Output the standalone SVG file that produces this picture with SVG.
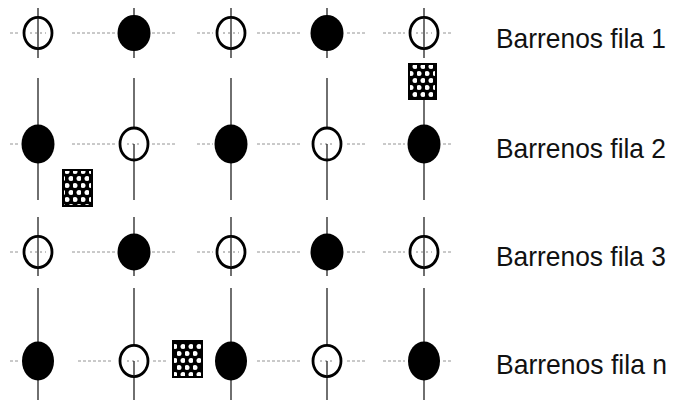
<svg xmlns="http://www.w3.org/2000/svg" width="675" height="402" viewBox="0 0 675 402">
  <defs>
    <pattern id="dots" patternUnits="userSpaceOnUse" width="8" height="14" x="1" y="0">
      <rect width="8" height="14" fill="#000"/>
      <circle cx="2" cy="3.5" r="2.5" fill="#fff"/>
      <circle cx="6" cy="10.5" r="2.5" fill="#fff"/>
    </pattern>
  </defs>
  <style>
    .vl { stroke: #111; stroke-width: 1.2; fill: none; }
    .hl { stroke: #888; stroke-width: 0.9; stroke-dasharray: 3 2; fill: none; }
    .in { stroke: #111; stroke-width: 1.2; fill: none; }
    .ih { stroke: #777; stroke-width: 0.9; stroke-dasharray: 2 3; fill: none; }
    .full { fill: #000; }
    .open { fill: #fff; stroke: #000; stroke-width: 2.8; }
    .sq { fill: url(#dots); stroke: #000; stroke-width: 2; }
    .lbl { font-family: "Liberation Sans", Arial, sans-serif; font-size: 28px; fill: #111; }
  </style>
  <rect width="675" height="402" fill="#fff"/>

  <g id="connectors">
    <path class="vl" d="M38 8V58M38 78V200M38 217V276M38 288V400"/>
    <path class="vl" d="M134 8V58M134 78V200M134 217V276M134 288V400"/>
    <path class="vl" d="M231 8V58M231 78V200M231 217V276M231 288V400"/>
    <path class="vl" d="M327 8V58M327 78V200M327 217V276M327 288V400"/>
    <path class="vl" d="M424 8V58M424 78V200M424 217V276M424 288V400"/>
    <path class="hl" d="M10 33H18M72 33H115M152 33H175M197 33H213M257 33H302M347 33H365M383 33H405M443 33H451"/>
    <path class="hl" d="M10 144H18M72 144H115M152 144H175M197 144H213M257 144H302M347 144H365M383 144H405M443 144H451"/>
    <path class="hl" d="M10 252H18M72 252H115M152 252H175M197 252H213M257 252H302M347 252H365M383 252H405M443 252H451"/>
    <path class="hl" d="M10 361H18M78 361H113M153 361H168M257 361H302M347 361H365M383 361H405M443 361H451"/>
  </g>

  <g id="row1">
    <g id="r1c1"><ellipse class="open" cx="38" cy="33" rx="14" ry="15.6"/><path class="ih" d="M30 33H46"/><path class="in" d="M38 17V49"/></g>
    <g id="r1c2"><ellipse class="full" cx="134" cy="33" rx="16.5" ry="18"/></g>
    <g id="r1c3"><ellipse class="open" cx="231" cy="33" rx="14" ry="15.6"/><path class="ih" d="M223 33H239"/><path class="in" d="M231 17V49"/></g>
    <g id="r1c4"><ellipse class="full" cx="327" cy="33" rx="16.5" ry="18"/></g>
    <g id="r1c5"><ellipse class="open" cx="424" cy="33" rx="14" ry="15.6"/><path class="ih" d="M416 33H432"/><path class="in" d="M424 17V49"/></g>
  </g>

  <g id="row2">
    <g id="r2c1"><ellipse class="full" cx="38" cy="144" rx="16.5" ry="19.5"/></g>
    <g id="r2c2"><ellipse class="open" cx="134" cy="144" rx="14" ry="16"/><path class="ih" d="M127 144H141"/><path class="in" d="M134 144V160"/></g>
    <g id="r2c3"><ellipse class="full" cx="231" cy="144" rx="16.5" ry="19.5"/></g>
    <g id="r2c4"><ellipse class="open" cx="327" cy="144" rx="14" ry="16"/><path class="ih" d="M320 144H334"/><path class="in" d="M327 144V160"/></g>
    <g id="r2c5"><ellipse class="full" cx="424" cy="144" rx="16.5" ry="19.5"/></g>
  </g>

  <g id="row3">
    <g id="r3c1"><ellipse class="open" cx="38" cy="252" rx="14" ry="15.6"/><path class="ih" d="M30 252H46"/><path class="in" d="M38 236V268"/></g>
    <g id="r3c2"><ellipse class="full" cx="134" cy="252" rx="16.5" ry="18.5"/></g>
    <g id="r3c3"><ellipse class="open" cx="231" cy="252" rx="14" ry="15.6"/><path class="ih" d="M223 252H239"/><path class="in" d="M231 236V268"/></g>
    <g id="r3c4"><ellipse class="full" cx="327" cy="252" rx="16.5" ry="18.5"/></g>
    <g id="r3c5"><ellipse class="open" cx="424" cy="252" rx="14" ry="15.6"/><path class="ih" d="M416 252H432"/><path class="in" d="M424 236V268"/></g>
  </g>

  <g id="row4">
    <g id="r4c1"><ellipse class="full" cx="38" cy="361" rx="16" ry="19.5"/></g>
    <g id="r4c2"><ellipse class="open" cx="134" cy="361" rx="14" ry="15.6"/><path class="ih" d="M127 361H141"/><path class="in" d="M134 361V377"/></g>
    <g id="r4c3"><ellipse class="full" cx="231" cy="361" rx="16" ry="19.5"/></g>
    <g id="r4c4"><ellipse class="open" cx="327" cy="361" rx="14" ry="15.6"/><path class="ih" d="M320 361H334"/><path class="in" d="M327 361V377"/></g>
    <g id="r4c5"><ellipse class="full" cx="424" cy="361" rx="16" ry="19.5"/></g>
  </g>

  <g id="sq1"><rect class="sq" x="409" y="64" width="27" height="35"/></g>
  <g id="sq2"><rect class="sq" x="63" y="170" width="29" height="36"/></g>
  <g id="sq3"><rect class="sq" x="173" y="341" width="29" height="36"/></g>

  <g id="labels">
    <text class="lbl" x="496" y="48" textLength="170" lengthAdjust="spacingAndGlyphs">Barrenos fila 1</text>
    <text class="lbl" x="496" y="158" textLength="170" lengthAdjust="spacingAndGlyphs">Barrenos fila 2</text>
    <text class="lbl" x="496" y="266" textLength="170" lengthAdjust="spacingAndGlyphs">Barrenos fila 3</text>
    <text class="lbl" x="496" y="374" textLength="171" lengthAdjust="spacingAndGlyphs">Barrenos fila n</text>
  </g>
</svg>
